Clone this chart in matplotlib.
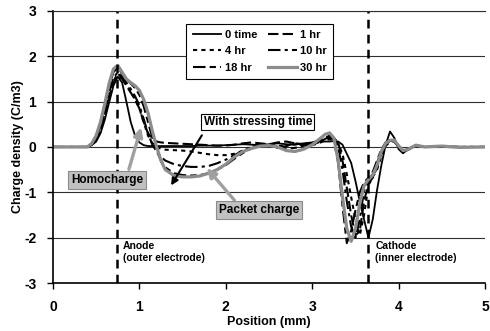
import matplotlib.pyplot as plt

plt.rcParams['font.family'] = ['Liberation Sans', 'DejaVu Sans']
plt.rcParams['font.weight'] = 'bold'
plt.rcParams['axes.unicode_minus'] = False

# Space charge profiles across the cable insulation, one per stressing time
position = [0, 0.2, 0.4, 0.45, 0.5, 0.55, 0.6, 0.65, 0.7, 0.75, 0.8, 0.85, 0.9, 0.95,
            1.0, 1.05, 1.1, 1.15, 1.2, 1.25, 1.3, 1.4, 1.5, 1.6, 1.7, 1.8, 1.9,
            2.0, 2.1, 2.2, 2.3, 2.4, 2.5, 2.6, 2.7, 2.8, 2.9, 3.0, 3.1, 3.15,
            3.2, 3.25, 3.3, 3.35, 3.4, 3.45, 3.5, 3.55, 3.6, 3.65, 3.7, 3.75,
            3.8, 3.85, 3.9, 3.95, 4.0, 4.05, 4.1, 4.2, 4.3, 4.5, 4.7, 5.0]

rho_0h = [0, 0, 0, 0.04, 0.12, 0.3, 0.6, 0.98, 1.35, 1.55, 1.42, 1.0, 0.55, 0.25,
          0.1, 0.04, 0.02, 0.02, 0.02, 0.02, 0.02, 0.02, 0.02, 0.02, 0.03, 0.03, 0.03,
          0.04, 0.05, 0.06, 0.05, 0.04, 0.06, 0.08, 0.06, 0.05, 0.08, 0.1, 0.12, 0.12,
          0.12, 0.13, 0.12, 0.05, -0.15, -0.35, -0.75, -1.2, -1.6, -2.0, -1.6, -0.95,
          -0.4, 0.05, 0.34, 0.2, -0.05, -0.14, -0.06, 0.03, 0.0, 0.0, 0.0, 0.0]

rho_1h = [0, 0, 0, 0.05, 0.15, 0.35, 0.68, 1.05, 1.4, 1.58, 1.5, 1.35, 1.2, 1.05,
          0.85, 0.55, 0.3, 0.18, 0.12, 0.1, 0.09, 0.08, 0.07, 0.06, 0.05, 0.04, 0.03,
          0.03, 0.05, 0.08, 0.1, 0.08, 0.06, 0.1, 0.12, 0.08, 0.06, 0.1, 0.15, 0.18,
          0.2, 0.2, 0.1, -0.3, -0.9, -1.5, -1.95, -1.85, -1.2, -0.8, -0.68, -0.45,
          -0.15, 0.05, 0.14, 0.14, 0.02, -0.08, -0.07, 0.04, 0.0, 0.01, 0.0, 0.0]

rho_4h = [0, 0, 0, 0.06, 0.18, 0.4, 0.75, 1.12, 1.45, 1.62, 1.52, 1.38, 1.22, 1.05,
          0.85, 0.55, 0.25, 0.08, 0.0, -0.04, -0.06, -0.07, -0.08, -0.1, -0.13, -0.16, -0.18,
          -0.18, -0.15, -0.08, 0.0, 0.05, 0.05, 0.02, 0.03, 0.08, 0.06, 0.04, 0.1, 0.15,
          0.17, 0.15, 0.08, -0.15, -0.6, -1.1, -1.6, -1.95, -1.5, -0.85, -0.66, -0.5,
          -0.2, 0.02, 0.12, 0.13, 0.03, -0.07, -0.06, 0.03, 0.0, 0.0, 0.0, 0.0]

rho_10h = [0, 0, 0, 0.07, 0.2, 0.45, 0.82, 1.2, 1.52, 1.65, 1.55, 1.42, 1.28, 1.12,
           0.92, 0.62, 0.3, 0.05, -0.1, -0.22, -0.3, -0.38, -0.42, -0.44, -0.44, -0.42, -0.36,
           -0.28, -0.18, -0.08, 0.0, 0.04, 0.02, -0.02, 0.02, 0.06, 0.03, 0.05, 0.12, 0.18,
           0.22, 0.18, 0.0, -0.5, -1.2, -1.75, -2.0, -1.6, -0.95, -0.72, -0.6, -0.35,
           -0.08, 0.08, 0.14, 0.12, 0.0, -0.09, -0.06, 0.04, 0.0, 0.01, 0.0, 0.0]

rho_18h = [0, 0, 0, 0.08, 0.24, 0.52, 0.9, 1.32, 1.65, 1.75, 1.62, 1.5, 1.4, 1.3,
           1.15, 0.9, 0.55, 0.2, -0.08, -0.3, -0.45, -0.58, -0.62, -0.63, -0.62, -0.58, -0.5,
           -0.4, -0.26, -0.13, -0.03, 0.03, 0.04, 0.0, -0.04, -0.02, 0.03, 0.08, 0.15, 0.2,
           0.25, 0.15, -0.35, -1.3, -2.12, -1.85, -1.4, -1.0, -0.78, -0.68, -0.55, -0.3,
           -0.05, 0.1, 0.15, 0.12, 0.0, -0.1, -0.07, 0.04, 0.0, 0.0, 0.0, 0.0]

rho_30h = [0, 0, 0, 0.08, 0.25, 0.55, 0.95, 1.4, 1.72, 1.8, 1.65, 1.5, 1.42, 1.35,
           1.25, 1.05, 0.75, 0.35, 0.0, -0.3, -0.5, -0.63, -0.66, -0.66, -0.64, -0.58, -0.5,
           -0.38, -0.22, -0.1, -0.03, 0.02, 0.03, 0.0, -0.08, -0.1, -0.05, 0.05, 0.2, 0.28,
           0.31, 0.2, -0.3, -1.1, -1.8, -2.08, -1.8, -1.25, -0.85, -0.72, -0.62, -0.4,
           -0.1, 0.08, 0.15, 0.15, 0.02, -0.08, -0.06, 0.04, 0.0, 0.02, -0.01, 0.0]

series = [
    ('0 time', rho_0h, 'black', 1.3, '-'),
    ('1 hr', rho_1h, 'black', 1.5, (0, (5, 2))),
    ('4 hr', rho_4h, 'black', 1.5, (0, (2, 2))),
    ('10 hr', rho_10h, 'black', 1.5, (0, (6, 2, 1.5, 2))),
    ('18 hr', rho_18h, 'black', 1.5, (0, (6, 2, 3, 2))),
    ('30 hr', rho_30h, '#8c8c8c', 2.3, '-'),
]

anode_pos = 0.74
cathode_pos = 3.64

fig = plt.figure(figsize=(4.9, 3.31), dpi=100)
ax = fig.add_axes([0.108, 0.145, 0.882, 0.822])

ax.set_axisbelow(True)
ax.yaxis.grid(True, color='#303030', linewidth=0.8)

lines = {}
for label, rho, color, lw, ls in series:
    lines[label], = ax.plot(position, rho, color=color, linewidth=lw, linestyle=ls, label=label)

# electrode positions
ax.axvline(anode_pos, color='black', linewidth=1.8, linestyle=(0, (3.5, 2.5)))
ax.axvline(cathode_pos, color='black', linewidth=1.8, linestyle=(0, (3.5, 2.5)))

ax.set_xlim(0, 5)
ax.set_ylim(-3, 3)
ax.set_xticks([0, 1, 2, 3, 4, 5])
ax.set_yticks([-3, -2, -1, 0, 1, 2, 3])
ax.tick_params(labelsize=10, length=4, direction='out', width=1)
ax.tick_params(axis='x', pad=8)
ax.tick_params(axis='y', pad=8)
ax.spines['right'].set_visible(False)
ax.spines['top'].set_color('#303030')
ax.spines['top'].set_linewidth(0.8)
ax.spines['left'].set_linewidth(1.2)
ax.spines['bottom'].set_linewidth(1.2)

ax.set_xlabel('Position (mm)', fontsize=9, fontweight='bold', labelpad=2)
ax.set_ylabel('Charge density (C/m3)', fontsize=9, fontweight='bold', labelpad=0)

order = ['0 time', '4 hr', '18 hr', '1 hr', '10 hr', '30 hr']
leg = ax.legend([lines[k] for k in order], order, ncol=2, loc='upper left',
                bbox_to_anchor=(0.296, 0.974), fontsize=8, frameon=True,
                fancybox=False, edgecolor='black', framealpha=1,
                handlelength=2.6, handletextpad=0.3, columnspacing=1.0,
                labelspacing=0.6, borderpad=0.55)
leg.get_frame().set_linewidth(0.8)

# annotations
ax.annotate('', xy=(1.35, -0.9), xytext=(1.74, 0.31),
            arrowprops=dict(arrowstyle='-|>', color='black', lw=1.5, mutation_scale=10))
ax.text(2.37, 0.55, 'With stressing time', fontsize=8.5, fontweight='bold',
        ha='center', va='center',
        bbox=dict(boxstyle='square,pad=0.2', facecolor='white', edgecolor='black', linewidth=0.8))

grey_box = dict(boxstyle='square,pad=0.25', facecolor='#c0c0c0', edgecolor='#8a8a8a', linewidth=0.8)
ax.annotate('', xy=(1.03, 0.49), xytext=(0.87, -0.55),
            arrowprops=dict(arrowstyle='-|>', color='#a0a0a0', lw=2.4, mutation_scale=13))
ax.text(0.625, -0.73, 'Homocharge', fontsize=8.5, fontweight='bold',
        ha='center', va='center', bbox=grey_box)

ax.annotate('', xy=(1.76, -0.42), xytext=(2.12, -1.22),
            arrowprops=dict(arrowstyle='-|>', color='#a0a0a0', lw=2.4, mutation_scale=13))
ax.text(2.38, -1.39, 'Packet charge', fontsize=8.5, fontweight='bold',
        ha='center', va='center', bbox=grey_box)

ax.text(0.81, -2.08, 'Anode\n(outer electrode)', fontsize=7.5, fontweight='bold',
        ha='left', va='top', linespacing=1.2)
ax.text(3.73, -2.08, 'Cathode\n(inner electrode)', fontsize=7.5, fontweight='bold',
        ha='left', va='top', linespacing=1.2)

fig.savefig('out.png', dpi=100)
